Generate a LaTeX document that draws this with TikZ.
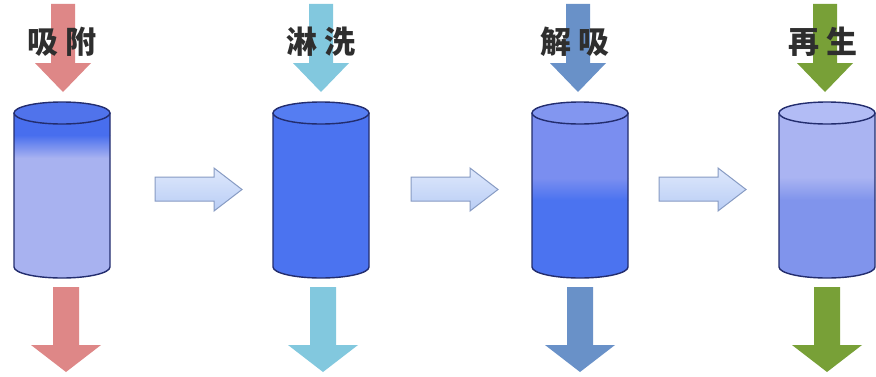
\documentclass[tikz,border=0pt]{standalone}
\usepackage{fontspec}
\newfontfamily\cjk{Noto Sans CJK SC}
\definecolor{outl}{RGB}{35,45,110}
\definecolor{ared}{RGB}{222,135,135}
\definecolor{acyan}{RGB}{130,200,222}
\definecolor{asteel}{RGB}{105,145,200}
\definecolor{agreen}{RGB}{120,160,55}
\definecolor{ratop}{RGB}{222,232,252}
\definecolor{rabot}{RGB}{185,205,245}
\definecolor{raline}{RGB}{135,155,195}
\definecolor{cdark}{RGB}{72,110,238}
\definecolor{cdarkb}{RGB}{75,115,240}
\definecolor{clight}{RGB}{168,178,240}
\definecolor{cmid}{RGB}{122,142,240}
\definecolor{cmidb}{RGB}{128,148,236}
\definecolor{cpale}{RGB}{170,180,242}
\definecolor{e1}{RGB}{80,115,235}
\definecolor{e2}{RGB}{85,125,242}
\definecolor{e3}{RGB}{130,150,240}
\definecolor{e4}{RGB}{178,188,245}
\tikzset{
  cylline/.style={draw=outl, line width=1.4pt},
  lbl/.style={font=\cjk\bfseries\fontsize{31}{31}\selectfont, text=black!82, inner sep=0pt},
  rarrow/.style={draw=raline, line width=1pt, top color=ratop, bottom color=rabot},
}
% #1 cx, #2 ellipse colour, #3 upper colour, #4 lower colour, #5 transition top Y, #6 transition bottom Y
\newcommand\cylinder[6]{%
  \begin{scope}
    \clip (#1-48,263) -- (#1-48,109) arc[start angle=180,end angle=360,x radius=48,y radius=11] -- (#1+48,263) -- cycle;
    \fill[#4] (#1-50,95) rectangle (#1+50,#6+0.5);
    \shade[top color=#3,bottom color=#4] (#1-50,#6) rectangle (#1+50,#5);
    \fill[#3] (#1-50,#5-0.5) rectangle (#1+50,266);
  \end{scope}
  \draw[cylline] (#1-48,263) -- (#1-48,109) arc[start angle=180,end angle=360,x radius=48,y radius=11] -- (#1+48,263);
  \draw[cylline, fill=#2] (#1,263) ellipse[x radius=48, y radius=11];
}
\newcommand\downin[2]{%
  \fill[#2] (#1-12,372) -- (#1-12,313) -- (#1-28,313) -- (#1,284) -- (#1+28,313) -- (#1+12,313) -- (#1+12,372) -- cycle;
}
\newcommand\downout[2]{%
  \fill[#2] (#1-13,89) -- (#1-13,31) -- (#1-35,31) -- (#1,4) -- (#1+35,31) -- (#1+13,31) -- (#1+13,89) -- cycle;
}
\newcommand\rightarr[1]{%
  \draw[rarrow] (#1,199) -- (#1+59,199) -- (#1+59,208) -- (#1+87,186.5) -- (#1+59,165) -- (#1+59,175) -- (#1,175) -- cycle;
}
\begin{document}
\begin{tikzpicture}[x=1pt,y=1pt]
  \useasboundingbox (0,0) rectangle (876,376);
  \fill[white] (0,0) rectangle (876,376);
  % input / output arrows
  \downin{63}{ared}   \downout{66}{ared}
  \downin{321}{acyan} \downout{323}{acyan}
  \downin{578}{asteel}\downout{580}{asteel}
  \downin{825}{agreen}\downout{827}{agreen}
  % columns
  \cylinder{62}{e1}{cdark}{clight}{241}{218}
  \cylinder{321}{e2}{cdarkb}{cdarkb}{200}{180}
  \cylinder{580}{e3}{cmid}{cdarkb}{198}{176}
  \cylinder{827}{e4}{cpale}{cmidb}{199}{176}
  % step arrows
  \rightarr{155}
  \rightarr{411}
  \rightarr{659}
  % labels
  \node[lbl] (l1) at (62,334) {吸\hspace{7pt}附};
  \node[lbl] (l2) at (321,334) {淋\hspace{7pt}洗};
  \node[lbl] (l3) at (575,334) {解\hspace{7pt}吸};
  \node[lbl] (l4) at (823,334) {再\hspace{7pt}生};
\end{tikzpicture}
\end{document}
